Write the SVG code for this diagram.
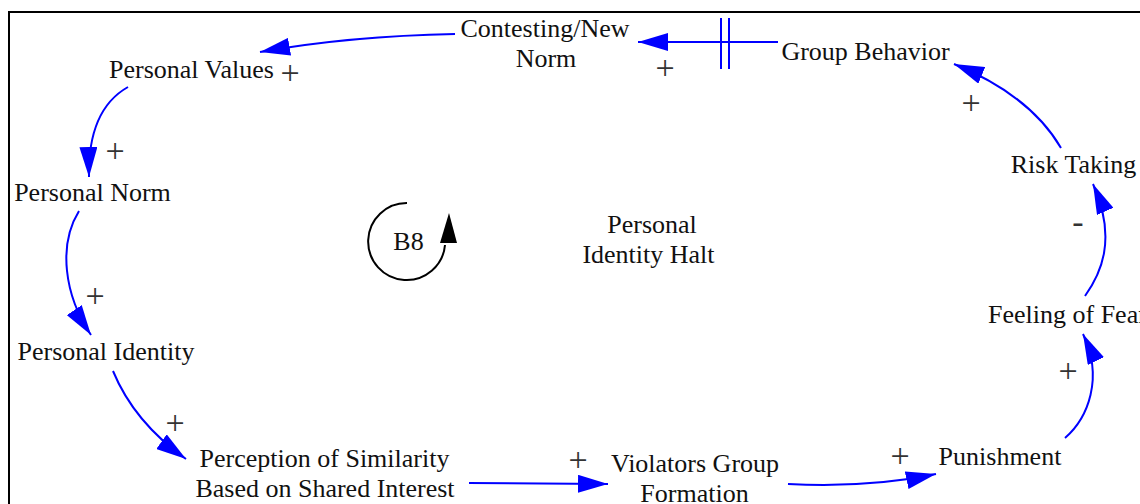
<svg xmlns="http://www.w3.org/2000/svg" width="1140" height="504" viewBox="0 0 1140 504">
  <defs>
    <style>
      .lbl { font-family: "Liberation Serif", "Times New Roman", serif; font-size: 26px; fill: #111; text-anchor: middle; }
      .pol { font-family: "Liberation Serif", "Times New Roman", serif; font-size: 34px; fill: #333; text-anchor: middle; }
      .link { fill: none; stroke: #0000ff; stroke-width: 2; marker-end: url(#head); }
      .frame { fill: none; stroke: #000; stroke-width: 2; }
    </style>
    <marker id="head" markerUnits="userSpaceOnUse" viewBox="0 0 30 18" refX="30" refY="9" markerWidth="30" markerHeight="18" orient="auto">
      <path d="M0,0 L30,9 L0,18 Z" fill="#0000ff"/>
    </marker>
  </defs>

  <rect width="1140" height="504" fill="#fff"/>
  <path class="frame" d="M9,504 L9,12 L1140,12"/>

  <!-- causal links -->
  <g id="links">
    <path class="link" d="M455,34 Q350,36 260,52"/>
    <path class="link" d="M778,42 L638,42"/>
    <path d="M721,18 L721,69 M729,18 L729,69" stroke="#0000ff" stroke-width="2" fill="none"/>
    <path class="link" d="M1061,148 Q1030,95 954,64"/>
    <path class="link" d="M1085,296 C1100,275 1118,240 1093,184"/>
    <path class="link" d="M1065,438 C1088,418 1104,378 1083,334"/>
    <path class="link" d="M788,484 Q870,488 936,474"/>
    <path class="link" d="M469,483 L608,484"/>
    <path class="link" d="M113,371 C125,400 145,430 186,459"/>
    <path class="link" d="M79,211 C58,245 64,295 91,335"/>
    <path class="link" d="M128,87 C105,100 88,125 89,177"/>
  </g>

  <!-- link polarities -->
  <g id="polarities">
    <text class="pol" x="665" y="79">+</text>
    <text class="pol" x="290" y="84">+</text>
    <text class="pol" x="971" y="114">+</text>
    <text class="pol" x="1078" y="233">-</text>
    <text class="pol" x="115" y="162">+</text>
    <text class="pol" x="95" y="307">+</text>
    <text class="pol" x="175" y="434">+</text>
    <text class="pol" x="578" y="471">+</text>
    <text class="pol" x="900" y="467">+</text>
    <text class="pol" x="1068" y="382">+</text>
  </g>

  <!-- variables -->
  <g id="contesting-new-norm"><text class="lbl" x="545" y="37">Contesting/New</text><text class="lbl" x="546" y="67">Norm</text></g>
  <g id="group-behavior"><text class="lbl" x="865.5" y="60">Group Behavior</text></g>
  <g id="personal-values"><text class="lbl" x="191.5" y="78">Personal Values</text></g>
  <g id="personal-norm"><text class="lbl" x="92.5" y="201">Personal Norm</text></g>
  <g id="personal-identity"><text class="lbl" x="106" y="360">Personal Identity</text></g>
  <g id="perception-of-similarity"><text class="lbl" x="324.5" y="467">Perception of Similarity</text><text class="lbl" x="325" y="497">Based on Shared Interest</text></g>
  <g id="violators-group-formation"><text class="lbl" x="695" y="472">Violators Group</text><text class="lbl" x="694.5" y="502">Formation</text></g>
  <g id="punishment"><text class="lbl" x="1000" y="465">Punishment</text></g>
  <g id="feeling-of-fear"><text class="lbl" x="988" y="323" style="text-anchor:start">Feeling of Fear</text></g>
  <g id="risk-taking"><text class="lbl" x="1073.5" y="173">Risk Taking</text></g>

  <!-- loop marker -->
  <g id="loop-b8">
    <path d="M407,203 A38.5,38.5 0 1 0 445,245" fill="none" stroke="#000" stroke-width="2"/>
    <path d="M449,213 L457,243 L440,243 Z" fill="#000"/>
    <text class="lbl" x="408.5" y="250">B8</text>
    <text class="lbl" x="652" y="233">Personal</text>
    <text class="lbl" x="648.5" y="263">Identity Halt</text>
  </g>
</svg>
